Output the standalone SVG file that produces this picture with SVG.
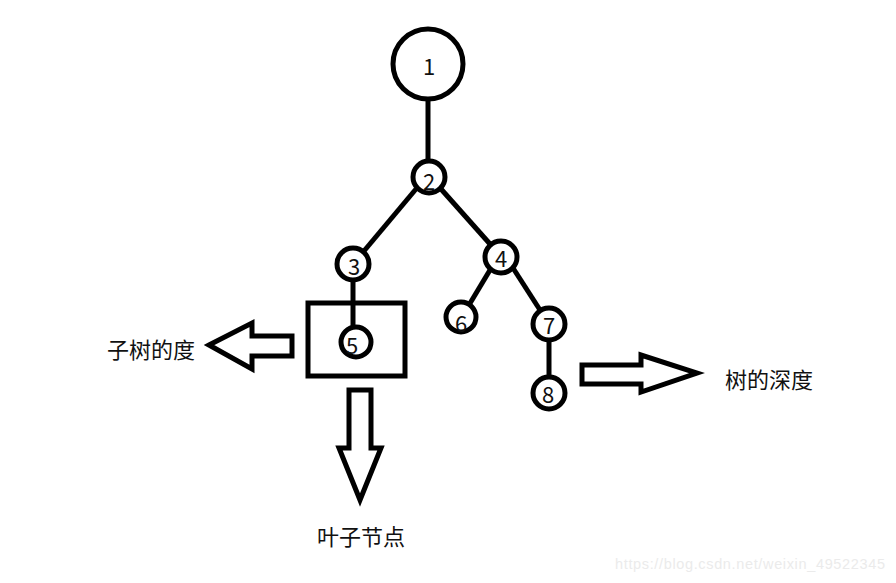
<svg xmlns="http://www.w3.org/2000/svg" width="896" height="583" viewBox="0 0 896 583">
<style>
.n{fill:#fff;stroke:#000;stroke-width:5}
.e{stroke:#000;stroke-width:5;fill:none}
.a{fill:#fff;stroke:#000;stroke-width:5;stroke-linejoin:miter}
.t{font-family:"Noto Sans CJK SC","Liberation Sans",sans-serif;font-size:22px;fill:#111;text-anchor:middle;dominant-baseline:central}
.c{font-family:"Noto Sans CJK SC",sans-serif;font-size:22px;fill:#111}
</style>
<rect width="896" height="583" fill="#fff"/>
<g id="connectors">
<line class="e" x1="428" y1="100" x2="428" y2="161"/>
<line class="e" x1="416" y1="189" x2="364" y2="251"/>
<line class="e" x1="441" y1="189" x2="490" y2="244"/>
<line class="e" x1="353" y1="280" x2="353" y2="328"/>
<line class="e" x1="490" y1="270" x2="469" y2="305"/>
<line class="e" x1="513" y1="268" x2="540" y2="310"/>
<line class="e" x1="549" y1="340" x2="549" y2="377"/>
</g>
<g id="box"><rect x="308" y="303" width="97" height="73" fill="none" stroke="#000" stroke-width="5"/></g>
<g id="node1"><circle class="n" cx="428" cy="64" r="35"/><text class="t" x="429" y="65">1</text></g>
<g id="node2"><circle class="n" cx="429" cy="177" r="16"/><text class="t" x="429" y="180">2</text></g>
<g id="node3"><circle class="n" cx="353" cy="264" r="16"/><text class="t" x="354" y="265">3</text></g>
<g id="node4"><circle class="n" cx="501" cy="257" r="16"/><text class="t" x="501" y="257">4</text></g>
<g id="node5"><circle class="n" cx="356" cy="342" r="15"/><text class="t" x="352" y="344">5</text></g>
<g id="node6"><circle class="n" cx="461" cy="317" r="15"/><text class="t" x="461" y="322">6</text></g>
<g id="node7"><circle class="n" cx="549" cy="324" r="16"/><text class="t" x="549" y="324">7</text></g>
<g id="node8"><circle class="n" cx="549" cy="393" r="16"/><text class="t" x="548" y="393">8</text></g>
<g id="arrow-left"><polygon class="a" points="209,345 252,323 252,336 292,336 292,356 252,356 252,369"/><text class="c" x="107" y="358">子树的度</text></g>
<g id="arrow-right"><polygon class="a" points="582,365 641,365 641,355 697,373 641,392 641,384 582,384"/><text class="c" x="725" y="388">树的深度</text></g>
<g id="arrow-down"><polygon class="a" points="349,390 371,390 371,448 381,448 360,500 339,448 349,448"/><text class="c" x="317" y="545">叶子节点</text></g>
<text x="615" y="569" font-family="Liberation Sans,Arial,sans-serif" font-size="14.5" fill="#ebebeb" textLength="270">https://blog.csdn.net/weixin_49522345</text>
</svg>
